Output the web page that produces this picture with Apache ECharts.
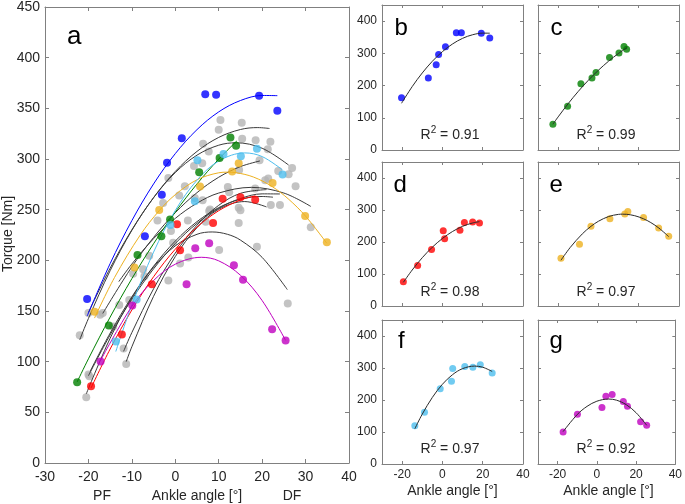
<!DOCTYPE html>
<html><head><meta charset="utf-8">
<script src="https://cdn.jsdelivr.net/npm/echarts@6/dist/echarts.min.js"></script>
<style>html,body{margin:0;padding:0;background:#fff}#c{width:685px;height:504px}</style>
</head><body><div id="c"></div>
<script>
// ---- tick values ----
const mainXTicks = [-30, -20, -10, 0, 10, 20, 30, 40];
const mainYTicks = [0, 50, 100, 150, 200, 250, 300, 350, 400, 450];
const subXTicks = [-20, 0, 20, 40];
const subYTicks = [0, 100, 200, 300, 400];

// ---- highlighted subjects: measured points [angle, torque] ----
const blueData = [[-20.3,161.8],[-7.0,223.7],[-3.1,264.6],[-1.9,296.4],[1.5,320.6],[6.9,364],[9.4,363.5],[19.3,362.5],[23.5,347.5]];
const greenData = [[-22.6,79.6],[-15.3,135.6],[-8.7,205.3],[-3.2,223.7],[-1.2,240.4],[5.5,287],[10.2,301],[12.7,321.3],[14.0,313]];
const redData = [[-19.4,75.7],[-12.3,126.7],[-5.4,176.5],[0.4,235.5],[1.1,210],[8.7,236.8],[10.9,260.7],[15.0,262.3],[18.4,259.7]];
const yellowData = [[-18.6,149.3],[-9.4,192.9],[-3.7,249.6],[5.7,272.8],[13.1,287.6],[14.6,295.7],[22.4,276.4],[29.9,243.7],[34.9,217.8]];
const cyanData = [[-13.7,119.9],[-8.9,161.4],[-1.1,234.8],[4.5,258.4],[5.1,298.7],[11.1,304.9],[15.1,302.6],[18.8,310],[24.7,284.6]];
const magentaData = [[-17.2,100.2],[-9.9,155.5],[2.6,176.5],[4.6,212],[7.8,216.8],[13.5,195.2],[15.6,180.8],[22.3,132],[25.4,120.9]];

// ---- fitted curves of highlighted subjects ----
const blueFit = [[-20.3,145],[-15,196.8],[-10,239.2],[-5,275.4],[0,305.3],[5,329],[10,346.5],[15,357.7],[20,362.7],[23.5,362.5]];
const greenFit = [[-22.6,80],[-20,102.8],[-15,144],[-10,181.9],[-5,216.4],[0,247.6],[5,275.4],[10,299.9],[14.2,317.9]];
const redFit = [[-19.4,74],[-15,112.5],[-10,151],[-5,183.8],[0,211],[5,232.8],[10,249],[15,259.5],[18.4,263.6]];
const yellowFit = [[-18.6,143],[-14,183],[-8,225.4],[-3.7,249],[0,264.8],[5,279.5],[10,286.4],[12,287],[14,286.5],[18,282.2],[22.3,272.8],[26,260.7],[30,243.6],[34.9,216.8]];
const cyanFit = [[-13.7,110],[-10,156],[-5,208.1],[0,249.2],[5,279.1],[10,298],[16,306],[20,302.4],[24.7,289.2]];
const magentaFit = [[-17.2,101.3],[-10,154.6],[-5,180.1],[0,196.2],[6,203],[10,199.5],[15,185.3],[20,160.3],[25.4,121]];

// ---- other subjects (grey points) ----
const greyData = [[10.4,338.6],[10.0,328.8],[15.3,335.7],[6.4,315.1],[7.7,307.5],[15.4,320],[18.5,318.6],[21.9,317],[21.3,309.5],[19.4,298.7],[6.2,295.7],[4.3,293],[-1.6,281.3],[14.7,289.2],[23.7,288.2],[26.1,284.9],[26.9,291.1],[27.7,273.1],[20.7,279],[21.4,280.7],[2.2,273.1],[12.1,272.4],[12.4,267.2],[18.4,270.9],[-2.8,256.7],[4.5,261.6],[6.3,259.4],[0.9,264],[14.6,251.8],[15.0,249.5],[22,254.5],[24.1,254.5],[7.8,248.6],[7.0,238.1],[14.6,236.8],[31.2,232.6],[2.9,239.4],[-4.1,239.4],[-1.0,228.9],[-0.5,217.4],[18.8,213.5],[10.1,210.3],[3.0,202.7],[1.1,196.8],[-6.0,204.6],[-7.4,191.3],[-7.1,184.2],[-9.7,186.7],[-1.6,180.2],[25.9,157.5],[-17.3,146.4],[-16.7,148],[-20,148.1],[-12.9,156],[-10.6,160.8],[-22,126.1],[-14.3,134.6],[-11.9,113],[-11.3,97.6],[-20,87.4],[-19.8,85.5],[-20.5,64.8],[8.0,250.2]];

// ---- fitted curves of other subjects (black) ----
const greyFit1 = [[-20,148.5],[-15,192.3],[-10,230.1],[-5,261.9],[0,287.7],[5,307.5],[10,321.3],[15,329.1],[19,331],[21.7,330.1]];
const greyFit2 = [[-22,121.6],[-20,142.6],[-15,189.8],[-10,229.6],[-5,261.8],[0,286.6],[5,303.8],[10,313.6],[14,316],[20,310.6],[26.1,294]];
const greyFit3 = [[-16.7,147.6],[-10,193.6],[-5,222.6],[0,247],[5,266.8],[10,282],[15,292.5],[19.5,298.1]];
const greyFit4 = [[-13,179],[-10,196.4],[-5,221.4],[0,241.4],[5,256.4],[10,266.4],[17.5,272],[25,266.4],[31.2,253.2]];
const greyFit5 = [[-20,86.1],[-15,126.4],[-10,161.6],[-5,191.6],[0,216.6],[5,236.5],[10,251.3],[15,261],[20,265.6],[24.1,265.5]];
const greyFit6 = [[-19.6,90.5],[-15,128.2],[-10,164],[-5,194.2],[0,219],[5,238.2],[10,252],[15,260.3],[20,263],[22.5,262.3]];
const greyFit7 = [[-20.5,68.2],[-15,123.1],[-10,163],[-5,193.4],[0,214.3],[5,225.7],[8.5,228],[12,225.7],[15,220],[20,202.9],[25.8,171.1]];
const greyFit8 = [[-11.9,110.2],[-10,128.7],[-5,171.9],[0,207.2],[5,234.7],[10,254.3],[15,266.1],[21,269.8]];
const greyFit9 = [[-11.3,100],[-10,114.7],[-5,164.5],[0,203.7],[5,232.3],[10,250.4],[16,258],[21,252.7]];
const greyFits = [greyFit1, greyFit2, greyFit3, greyFit4, greyFit5, greyFit6, greyFit7, greyFit8, greyFit9];

// ---- panel descriptors ----
const panelLetters = ['b', 'c', 'd', 'e', 'f', 'g'];
const panelR2 = ['0.91', '0.99', '0.98', '0.97', '0.97', '0.92'];
const subjectColors = ['#0000ff', '#008000', '#ff0000', '#edb120', '#4dbeee', '#bf00bf'];
const subjectData = [blueData, greenData, redData, yellowData, cyanData, magentaData];
const subjectFits = [blueFit, greenFit, redFit, yellowFit, cyanFit, magentaFit];

const FONT = '"Liberation Sans", Arial, Helvetica, sans-serif';
const AX = '#808080';
const TXT = '#262626';

const gridRects = [
  {left: 45, top: 5, width: 304, height: 458},
  {left: 382, top: 5, width: 141, height: 145},
  {left: 538, top: 5, width: 141, height: 145},
  {left: 382, top: 162, width: 141, height: 144},
  {left: 538, top: 162, width: 141, height: 144},
  {left: 382, top: 320, width: 141, height: 144},
  {left: 538, top: 320, width: 141, height: 144}
];

const grid = gridRects.map(r => Object.assign({containLabel: false, show: false}, r));
const xAxis = [], yAxis = [];

gridRects.forEach((r, i) => {
  const main = i === 0;
  const tl = main ? 4 : 3;
  const showXLab = main || i >= 5;
  const showYLab = main || i % 2 === 1;
  const xBase = {
    type: 'value', gridIndex: i,
    min: main ? mainXTicks[0] : -30, max: main ? mainXTicks[mainXTicks.length - 1] : 40,
    splitLine: {show: false},
    axisLine: {show: true, onZero: false, lineStyle: {color: AX, width: 1}}
  };
  const yBase = {
    type: 'value', gridIndex: i,
    min: 0, max: 450,
    splitLine: {show: false},
    axisLine: {show: true, onZero: false, lineStyle: {color: AX, width: 1}}
  };
  if (main) { xBase.interval = 10; yBase.interval = 50; }
  else { yBase.interval = 100; }
  const xTick = {show: true, inside: true, length: tl, lineStyle: {color: AX}};
  const yTick = {show: true, inside: true, length: tl, lineStyle: {color: AX}};
  if (!main) { xTick.customValues = subXTicks; yTick.customValues = subYTicks; }
  const xLab = {show: showXLab, color: TXT, fontFamily: FONT, fontSize: main ? 14 : 12, margin: main ? 7 : 5};
  const yLab = {show: showYLab, color: TXT, fontFamily: FONT, fontSize: main ? 14 : 12, margin: main ? 5 : 5};
  if (!main) { xLab.customValues = subXTicks; yLab.customValues = subYTicks; }
  xAxis.push(Object.assign({}, xBase, {position: 'bottom', axisTick: xTick, axisLabel: xLab}));
  xAxis.push(Object.assign({}, xBase, {position: 'top', axisTick: xTick, axisLabel: {show: false}}));
  yAxis.push(Object.assign({}, yBase, {position: 'left', axisTick: yTick, axisLabel: yLab}));
  yAxis.push(Object.assign({}, yBase, {position: 'right', axisTick: yTick, axisLabel: {show: false}}));
});

const series = [];
// main panel
series.push({type: 'scatter', xAxisIndex: 0, yAxisIndex: 0, data: greyData, symbolSize: 8,
  itemStyle: {color: '#b4b4b4'}, z: 2});
greyFits.forEach(f => series.push({type: 'line', xAxisIndex: 0, yAxisIndex: 0, data: f, smooth: 0.35,
  showSymbol: false, symbol: 'none', lineStyle: {color: '#3a3a3a', width: 1}, z: 3}));
subjectData.forEach((d, k) => {
  series.push({type: 'line', xAxisIndex: 0, yAxisIndex: 0, data: subjectFits[k], smooth: 0.35,
    showSymbol: false, symbol: 'none', lineStyle: {color: subjectColors[k], width: 1}, z: 4});
  series.push({type: 'scatter', xAxisIndex: 0, yAxisIndex: 0, data: d, symbolSize: 8,
    itemStyle: {color: subjectColors[k]}, z: 5});
});
// sub panels
subjectData.forEach((d, k) => {
  const gi = k + 1;
  series.push({type: 'scatter', xAxisIndex: 2 * gi, yAxisIndex: 2 * gi, data: d, symbolSize: 7,
    itemStyle: {color: subjectColors[k]}, z: 2});
  series.push({type: 'line', xAxisIndex: 2 * gi, yAxisIndex: 2 * gi, data: subjectFits[k], smooth: 0.35,
    showSymbol: false, symbol: 'none', lineStyle: {color: '#2a2a2a', width: 1}, z: 3});
});

function txt(x, y, text, size, opts) {
  return Object.assign({type: 'text', x: x, y: y, silent: true,
    style: Object.assign({text: text, fill: '#000', font: size + 'px ' + FONT, align: 'left', verticalAlign: 'middle'}, (opts && opts.style) || {})},
    (opts && opts.extra) || {});
}

const letterPos = [[394.5, 28.5], [550.5, 28.5], [393.5, 185], [549.5, 185], [398, 341.5], [549.5, 341.5]];
const r2Pos = [[450, 135], [606, 135], [450, 292], [606, 292], [450, 449], [606, 449]];
const elements = [];
elements.push(txt(67, 36.5, 'a', 26));
panelLetters.forEach((l, k) => elements.push(txt(letterPos[k][0], letterPos[k][1], l, 24)));
panelR2.forEach((r, k) => elements.push({type: 'text', x: r2Pos[k][0], y: r2Pos[k][1], silent: true,
  style: {text: '{a|R}{s|2}{a| = ' + r + '}', align: 'center', verticalAlign: 'middle',
    rich: {
      a: {fontSize: 14, fontFamily: FONT, fill: TXT, lineHeight: 20, verticalAlign: 'middle'},
      s: {fontSize: 10, fontFamily: FONT, fill: TXT, lineHeight: 10, verticalAlign: 'top'}
    }}}));
elements.push(txt(8, 234, 'Torque [Nm]', 14, {style: {align: 'center', fill: TXT}, extra: {rotation: Math.PI / 2}}));
elements.push(txt(102, 496.5, 'PF', 14, {style: {align: 'center', fill: TXT}}));
elements.push(txt(197, 496.5, 'Ankle angle [\u00B0]', 14, {style: {align: 'center', fill: TXT}}));
elements.push(txt(292, 496.5, 'DF', 14, {style: {align: 'center', fill: TXT}}));
elements.push(txt(452.5, 491, 'Ankle angle [\u00B0]', 14, {style: {align: 'center', fill: TXT}}));
elements.push(txt(608.5, 491, 'Ankle angle [\u00B0]', 14, {style: {align: 'center', fill: TXT}}));

const chart = echarts.init(document.getElementById('c'), null, {renderer: 'canvas'});
chart.setOption({
  animation: false,
  backgroundColor: '#ffffff',
  grid: grid,
  xAxis: xAxis,
  yAxis: yAxis,
  series: series,
  graphic: {elements: elements}
});
</script></body></html>
